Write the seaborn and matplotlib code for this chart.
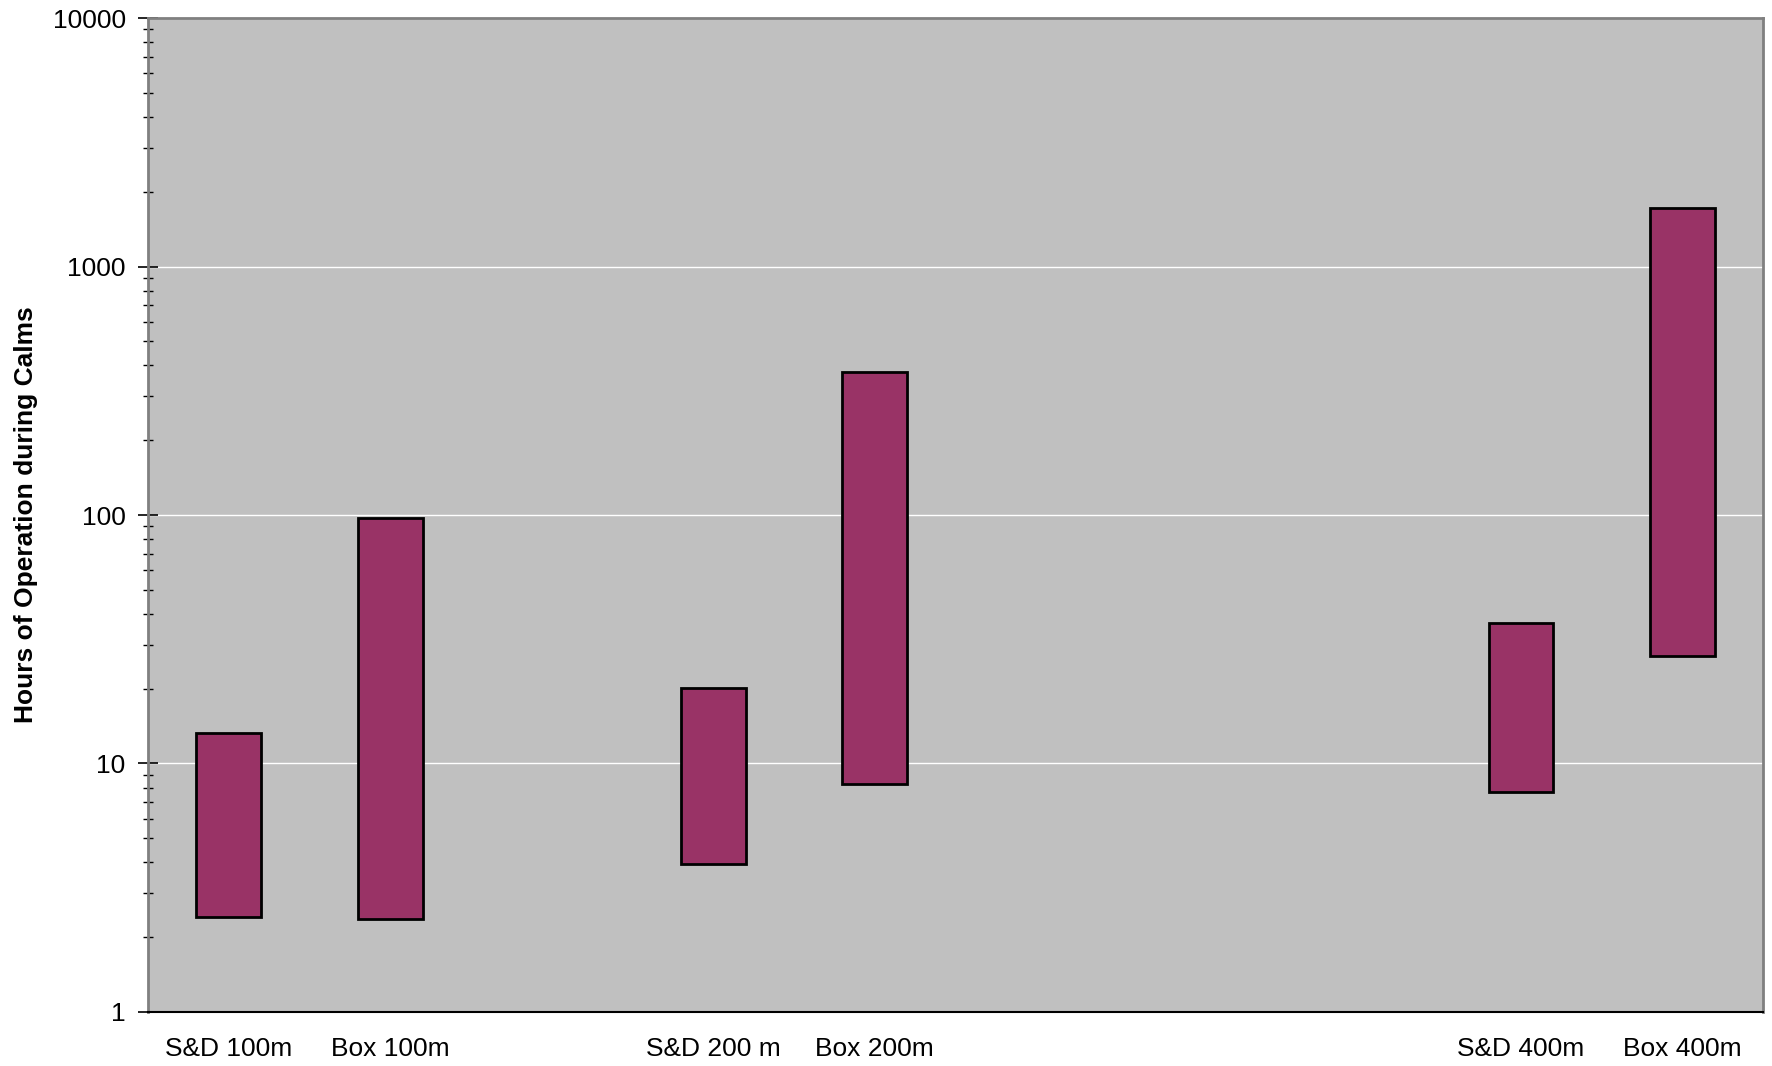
import matplotlib
matplotlib.use("Agg")
import matplotlib.pyplot as plt
import matplotlib.ticker as mticker
import pandas as pd
import seaborn as sns

# category slots (blank strings keep the empty gaps between groups)
slots = ["S&D 100m", "Box 100m", " ", "S&D 200 m", "Box 200m",
         "  ", "   ", "    ", "S&D 400m", "Box 400m"]
labels = ["S&D 100m", "Box 100m", "S&D 200 m", "Box 200m", "S&D 400m", "Box 400m"]
low_hours = [2.41, 2.36, 3.95, 8.3, 7.65, 27.1]
high_hours = [13.3, 97.0, 20.1, 375, 36.8, 1720]

df = pd.DataFrame({"config": labels, "low": low_hours, "high": high_hours})
df["span"] = df["high"] - df["low"]

sns.set_style("white")
plt.rcParams["font.family"] = ["Liberation Sans", "DejaVu Sans"]
plt.rcParams["text.color"] = "black"
plt.rcParams["axes.labelcolor"] = "black"
plt.rcParams["xtick.color"] = "black"
plt.rcParams["ytick.color"] = "black"

fig = plt.figure(figsize=(17.72, 10.66), dpi=100)
ax = fig.add_axes([0.0835, 0.0507, 0.9115, 0.9323])
ax.set_facecolor("#C0C0C0")

# floating bars: low -> high
sns.barplot(data=df, x="config", y="span", order=slots, bottom=df["low"].values,
            color="#993366", saturation=1, width=0.4, edgecolor="black",
            linewidth=2, errorbar=None, ax=ax)

ax.set_yscale("log")
ax.set_ylim(1, 10000)
ax.set_xlim(-0.5, len(slots) - 0.5)
ax.yaxis.set_major_locator(mticker.LogLocator(base=10, numticks=10))
ax.yaxis.set_major_formatter(mticker.FuncFormatter(lambda v, p: f"{int(round(v))}"))
ax.yaxis.set_minor_locator(mticker.LogLocator(base=10, subs=range(2, 10), numticks=20))
ax.yaxis.set_minor_formatter(mticker.NullFormatter())

ax.grid(axis="y", which="major", color="white", linewidth=1)
ax.set_axisbelow(True)

ax.tick_params(axis="y", which="major", direction="inout", length=14, width=1.2,
               labelsize=19, pad=9, color="black", labelcolor="black", left=True)
ax.tick_params(axis="y", which="minor", direction="inout", length=7, width=1,
               color="black", left=True)
ax.tick_params(axis="x", length=0, labelsize=19, pad=18, labelcolor="black")

for side in ["left", "top", "right"]:
    ax.spines[side].set_color("#808080")
    ax.spines[side].set_linewidth(2)
ax.spines["bottom"].set_color("black")
ax.spines["bottom"].set_linewidth(1.5)

ax.set_xlabel("")
ax.set_ylabel("Hours of Operation during Calms", fontsize=19, fontweight="bold",
              color="black")
ax.yaxis.set_label_coords(-0.068, 0.5)

fig.savefig("out.png", dpi=100)
